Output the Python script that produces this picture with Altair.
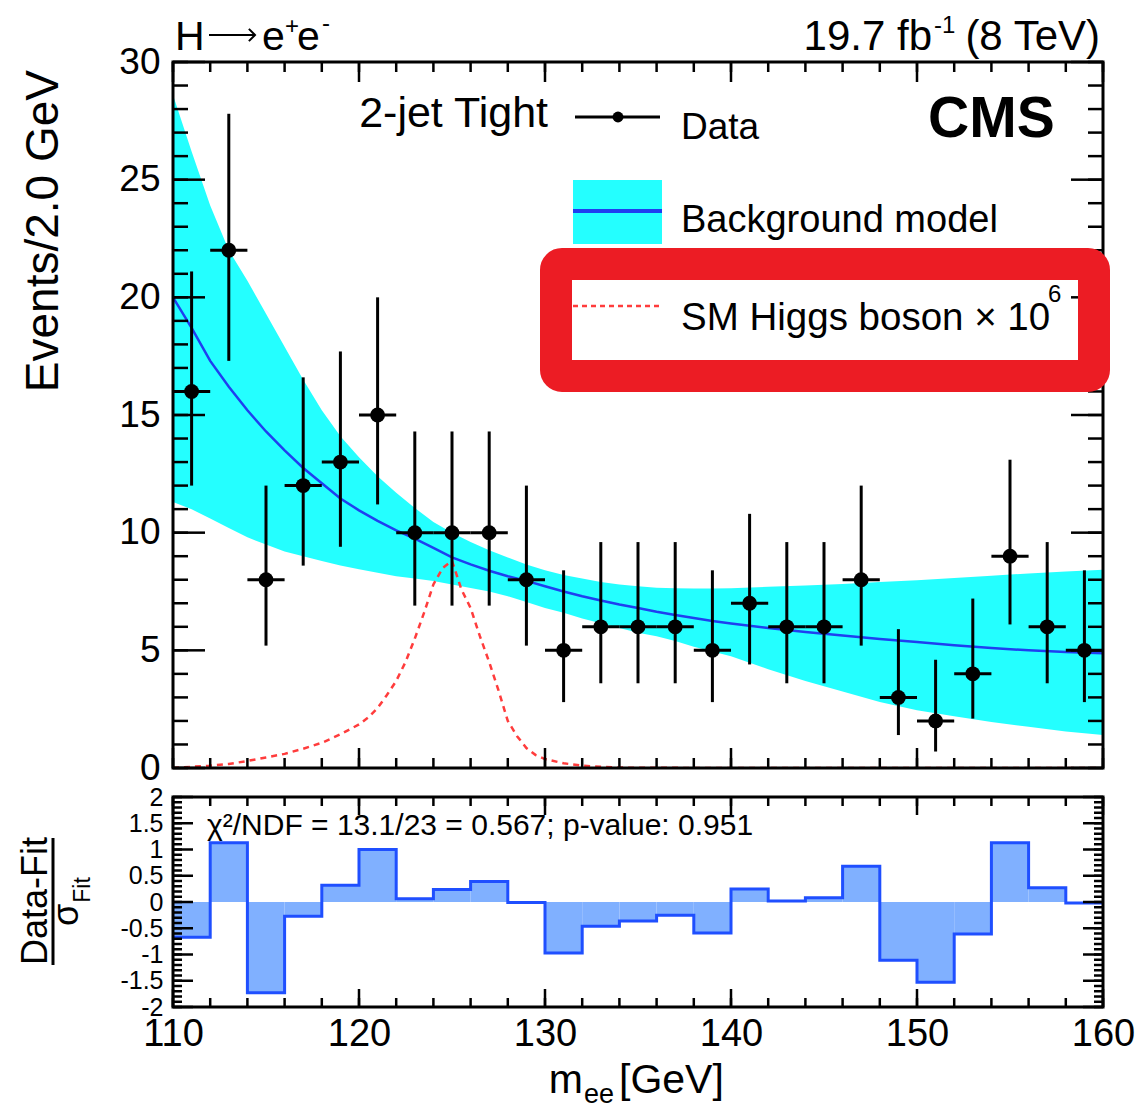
import altair as alt
import numpy as np
import pandas as pd

# ---------------- data ----------------
bin_center = [111, 113, 115, 117, 119, 121, 123, 125, 127, 129, 131, 133, 135,
              137, 139, 141, 143, 145, 147, 149, 151, 153, 155, 157, 159]
events = [16, 22, 8, 12, 13, 15, 10, 10, 10, 8, 5, 6, 6, 6, 5, 7, 6, 6, 8, 3, 2, 4, 9, 6, 5]
err_low = [12.0, 17.3, 5.2, 8.6, 9.4, 11.2, 6.9, 6.9, 6.9, 5.2, 2.8, 3.6, 3.6,
           3.6, 2.8, 4.4, 3.6, 3.6, 5.2, 1.4, 0.7, 2.1, 6.1, 3.6, 2.8]
err_high = [21.1, 27.8, 12.0, 16.6, 17.7, 20.0, 14.3, 14.3, 14.3, 12.0, 8.4, 9.6, 9.6,
            9.6, 8.4, 10.8, 9.6, 9.6, 12.0, 5.9, 4.6, 7.2, 13.1, 9.6, 8.4]

curve_mass = [110, 111, 112, 113, 114, 115, 116, 117, 118, 119, 120, 121, 122, 123,
              124, 125, 126, 127, 128, 129, 130, 131, 132, 133, 134, 135, 136, 137,
              138, 139, 140, 142, 144, 146, 148, 150, 152, 154, 156, 158, 160]
bkg_model = [20.0, 18.7, 17.3, 16.2, 15.2, 14.3, 13.5, 12.75, 12.1, 11.45, 10.95, 10.5,
             10.1, 9.75, 9.35, 8.95, 8.65, 8.38, 8.15, 7.95, 7.72, 7.5, 7.3, 7.12, 6.95,
             6.8, 6.64, 6.5, 6.37, 6.25, 6.14, 5.95, 5.78, 5.63, 5.48, 5.35, 5.22, 5.1,
             5.0, 4.93, 4.88]
band_upper = [28.6, 26.2, 23.9, 22.0, 20.7, 19.3, 17.9, 16.5, 15.2, 14.1, 13.2, 12.4,
              11.7, 11.05, 10.45, 10.0, 9.6, 9.25, 8.95, 8.65, 8.4, 8.2, 8.05, 7.9, 7.8,
              7.72, 7.66, 7.64, 7.63, 7.63, 7.64, 7.7, 7.76, 7.82, 7.9, 7.98, 8.07, 8.17,
              8.27, 8.35, 8.42]
band_lower = [11.3, 11.0, 10.6, 10.2, 9.8, 9.5, 9.2, 9.0, 8.8, 8.6, 8.45, 8.3, 8.15,
              8.05, 7.95, 7.8, 7.65, 7.5, 7.3, 7.05, 6.8, 6.6, 6.35, 6.15, 5.95, 5.75,
              5.6, 5.4, 5.15, 4.95, 4.75, 4.2, 3.7, 3.25, 2.8, 2.45, 2.2, 1.95, 1.75,
              1.55, 1.4]

sig_mass = [110, 111, 112, 113, 114, 115, 116, 117, 118, 119, 120, 120.5, 121, 121.5,
            122, 122.5, 123, 123.5, 124, 124.5, 125, 125.5, 126, 126.5, 127, 127.5,
            128, 128.5, 129, 129.5, 130, 131, 132, 133, 134, 135, 140, 150, 160]
sig_shape = [0.0, 0.05, 0.1, 0.17, 0.3, 0.45, 0.6, 0.82, 1.07, 1.43, 1.85, 2.15, 2.55,
             3.1, 3.7, 4.5, 5.5, 6.6, 7.8, 8.5, 8.8, 7.6, 6.8, 5.6, 4.5, 3.3, 2.0, 1.35,
             0.85, 0.55, 0.38, 0.2, 0.1, 0.05, 0.02, 0.01, 0.0, 0.0, 0.0]

pull_low_edge = [110, 112, 114, 116, 118, 120, 122, 124, 126, 128, 130, 132, 134,
                 136, 138, 140, 142, 144, 146, 148, 150, 152, 154, 156, 158]
pulls = [-0.67, 1.13, -1.73, -0.27, 0.32, 1.0, 0.06, 0.24, 0.39, -0.01, -0.97, -0.46,
         -0.36, -0.25, -0.59, 0.25, 0.02, 0.08, 0.68, -1.11, -1.53, -0.61, 1.13, 0.27,
         -0.02]

y_ticks_top = [0, 5, 10, 15, 20, 25, 30]
y_ticks_bottom = [-2, -1.5, -1, -0.5, 0, 0.5, 1, 1.5, 2]
x_ticks = [110, 120, 130, 140, 150, 160]

# ---------------- styling ----------------
FONT = "Liberation Sans"
W, H1, H2 = 930, 706, 210
CYAN = "#24ffff"
BLUE = "#1f3ff0"
SIGRED = "#ff3c3c"
ANNOT = "#ec1c24"
PULLFILL = "#80b0ff"
PULLEDGE = "#1f4fff"

xs = alt.Scale(domain=[110, 160], nice=False, zero=False)
ys1 = alt.Scale(domain=[0, 30], nice=False, zero=False)
ys2 = alt.Scale(domain=[-2, 2], nice=False, zero=False)

AX_Y1 = alt.Axis(values=y_ticks_top, labelFontSize=37, labelFont=FONT, labelColor="black",
                 labelPadding=13, ticks=False, domain=False, grid=False, title=None,
                 labelOverlap=False)
AX_Y2 = alt.Axis(values=y_ticks_bottom, labelFontSize=25, labelFont=FONT, labelColor="black",
                 labelPadding=10, ticks=False, domain=False, grid=False, title=None,
                 labelOverlap=False,
                 labelExpr="datum.value < 0 ? '-' + format(-datum.value, '~g') : format(datum.value, '~g')")
AX_X2 = alt.Axis(values=x_ticks, labelFontSize=38, labelFont=FONT, labelColor="black",
                 labelPadding=8, ticks=False, domain=False, grid=False, title=None,
                 labelOverlap=False, labelFlush=False, format="d")

one = pd.DataFrame({"k": [0]})


def X1(f):
    return alt.X(f, type="quantitative", scale=xs, axis=None)


def Y1(f):
    return alt.Y(f, type="quantitative", scale=ys1, axis=AX_Y1)


def X2(f):
    return alt.X(f, type="quantitative", scale=xs, axis=AX_X2)


def Y2(f):
    return alt.Y(f, type="quantitative", scale=ys2, axis=AX_Y2)


def txt(s, x, y, size, align="left", baseline="alphabetic", weight="normal", angle=0,
        color="black"):
    kw = dict(text=s, fontSize=size, align=align, baseline=baseline, font=FONT,
              fontWeight=weight, color=color)
    if angle:
        kw["angle"] = angle
    return alt.Chart(one).mark_text(**kw).encode(x=alt.value(x), y=alt.value(y))


def seg(x1, x2, y1, y2, color="black", width=3, dash=None):
    kw = dict(color=color, strokeWidth=width)
    if dash:
        kw["strokeDash"] = dash
    return alt.Chart(one).mark_rule(**kw).encode(
        x=alt.value(x1), x2=alt.value(x2), y=alt.value(y1), y2=alt.value(y2))


def xtick(vals, xf, y0, y1):
    return alt.Chart(pd.DataFrame({"t": vals})).mark_rule(color="black", strokeWidth=2.5).encode(
        x=xf("t"), y=alt.value(y0), y2=alt.value(y1))


def ytick(vals, yf, x0, x1):
    return alt.Chart(pd.DataFrame({"t": vals})).mark_rule(color="black", strokeWidth=2.5).encode(
        y=yf("t"), x=alt.value(x0), x2=alt.value(x1))


def frame(h):
    return alt.Chart(one).mark_rect(filled=False, stroke="black", strokeWidth=3).encode(
        x=alt.value(0), x2=alt.value(W), y=alt.value(0), y2=alt.value(h))


# ---------------- top panel ----------------
df_curve = pd.DataFrame({"m": curve_mass, "bkg": bkg_model, "up": band_upper, "lo": band_lower})
df_sig = pd.DataFrame({"m": sig_mass, "s": sig_shape})
df_pts = pd.DataFrame({"m": bin_center, "n": events, "lo": err_low, "hi": err_high})
df_pts["mlo"] = df_pts["m"] - 1
df_pts["mhi"] = df_pts["m"] + 1

band = alt.Chart(df_curve).mark_area(color=CYAN, opacity=1, clip=True).encode(
    x=X1("m"), y=Y1("up"), y2="lo")
bkg_line = alt.Chart(df_curve).mark_line(color=BLUE, strokeWidth=2.5, clip=True).encode(
    x=X1("m"), y=Y1("bkg"))
sig_line = alt.Chart(df_sig).mark_line(color=SIGRED, strokeWidth=2.5, strokeDash=[6, 5],
                                       clip=True).encode(x=X1("m"), y=Y1("s"))
vbars = alt.Chart(df_pts).mark_rule(color="black", strokeWidth=3).encode(
    x=X1("m"), y=Y1("lo"), y2="hi")
hbars = alt.Chart(df_pts).mark_rule(color="black", strokeWidth=3).encode(
    x=X1("mlo"), x2="mhi", y=Y1("n"))
pts = alt.Chart(df_pts).mark_circle(color="black", size=220, opacity=1).encode(
    x=X1("m"), y=Y1("n"))

xminor = list(np.arange(110, 161, 2))
xmajor = list(np.arange(110, 161, 10))
top_ticks = [
    xtick(xminor, X1, H1, H1 - 10), xtick(xmajor, X1, H1, H1 - 20),
    xtick(xminor, X1, 0, 10), xtick(xmajor, X1, 0, 20),
    ytick(list(range(0, 31)), Y1, 0, 15), ytick(y_ticks_top, Y1, 0, 32),
    ytick(list(range(0, 31)), Y1, W, W - 15), ytick(y_ticks_top, Y1, W, W - 32),
]

legend_dot = alt.Chart(one).mark_circle(color="black", size=120, opacity=1).encode(
    x=alt.value(445), y=alt.value(55))
legend_box = alt.Chart(one).mark_rect(color=CYAN).encode(
    x=alt.value(400), x2=alt.value(489), y=alt.value(118), y2=alt.value(182))
annot = alt.Chart(one).mark_rect(filled=False, stroke=ANNOT, strokeWidth=32, cornerRadius=6).encode(
    x=alt.value(383), x2=alt.value(921), y=alt.value(202), y2=alt.value(314))
anchor = alt.Chart(one).mark_rule(opacity=0, strokeWidth=1).encode(
    x=alt.value(-165), x2=alt.value(-164), y=alt.value(-54), y2=alt.value(-54))
arrow_head = alt.Chart(one).mark_point(shape="M -1 -1 L 0 0 L -1 1", filled=False,
                                       color="black", strokeWidth=2, size=150,
                                       opacity=1).encode(x=alt.value(82), y=alt.value(-27))

top_layers = [band, bkg_line, sig_line, vbars, hbars, pts] + top_ticks + [
    frame(H1),
    # legend
    txt("2-jet Tight", 375, 65, 43, align="right"),
    seg(402, 487, 55, 55, width=3), legend_dot,
    txt("Data", 508, 77, 37),
    txt("CMS", 755, 75, 57, weight="bold"),
    legend_box, seg(400, 489, 149, 149, color=BLUE, width=4),
    txt("Background model", 508, 170, 38),
    seg(400, 489, 244, 244, color=SIGRED, width=2.5, dash=[5, 4]),
    txt("SM Higgs boson \u00d7 10", 508, 268, 38.5),
    txt("6", 875, 240, 24),
    annot,
    # titles
    txt("H", 2, -12, 41),
    seg(36, 82, -27, -27, width=2), arrow_head,
    txt("e", 89, -12, 41),
    txt("+", 112, -28, 24), txt("e", 124, -12, 41), txt("-", 149, -31, 24),
    txt("19.7 fb", 759, -12, 42, align="right"), txt("-1", 761, -29, 24),
    txt("(8 TeV)", 927, -12, 42, align="right"),
    txt("Events/2.0 GeV", -115, 8, 46, align="right", angle=270),
    anchor,
]
top = alt.layer(*top_layers).properties(width=W, height=H1)

# ---------------- bottom panel ----------------
df_pull = pd.DataFrame({"lo": pull_low_edge, "v": pulls})
df_pull["hi"] = df_pull["lo"] + 2
df_pull["zero"] = 0.0
step_rows = []
for i, (a, v) in enumerate(zip(pull_low_edge, pulls)):
    step_rows.append({"m": a, "v": v, "i": 2 * i})
    step_rows.append({"m": a + 2, "v": v, "i": 2 * i + 1})
df_step = pd.DataFrame(step_rows)

pull_bars = alt.Chart(df_pull).mark_rect(color=PULLFILL, opacity=1).encode(
    x=X2("lo"), x2="hi", y=Y2("v"), y2="zero")
pull_edge = alt.Chart(df_step).mark_line(color=PULLEDGE, strokeWidth=3).encode(
    x=X2("m"), y=Y2("v"), order="i:Q")

yminor2 = [round(v, 1) for v in np.arange(-2, 2.001, 0.1)]
bottom_ticks = [
    xtick(xminor, X2, H2, H2 - 9), xtick(xmajor, X2, H2, H2 - 18),
    xtick(xminor, X2, 0, 9), xtick(xmajor, X2, 0, 18),
    ytick(yminor2, Y2, 0, 9), ytick(y_ticks_bottom, Y2, 0, 20),
    ytick(yminor2, Y2, W, W - 9), ytick(y_ticks_bottom, Y2, W, W - 20),
]

bottom_layers = [pull_bars, pull_edge] + bottom_ticks + [
    frame(H2),
    txt("\u03c7\u00b2/NDF = 13.1/23 = 0.567; p-value: 0.951", 34, 38, 30),
    # x title
    txt("m", 410, 296, 41, align="right"),
    txt("ee", 411, 306, 27),
    txt("[GeV]", 446, 296, 41),
    # y title (fraction)
    txt("Data-Fit", -126, 104, 36, align="center", angle=270),
    seg(-120, -120, 41, 168, width=3),
    txt("\u03c3", -95, 118, 36, align="center", angle=270),
    txt("Fit", -83, 93, 23, align="center", angle=270),
]
bottom = alt.layer(*bottom_layers).properties(width=W, height=H2)

chart = alt.vconcat(top, bottom, spacing=29, bounds="flush").properties(
    padding={"left": 0, "top": 0, "right": 0, "bottom": 0}
).configure(font=FONT).configure_view(strokeWidth=0)

chart.save("out.html", embed_options={"renderer": "svg", "actions": False})
